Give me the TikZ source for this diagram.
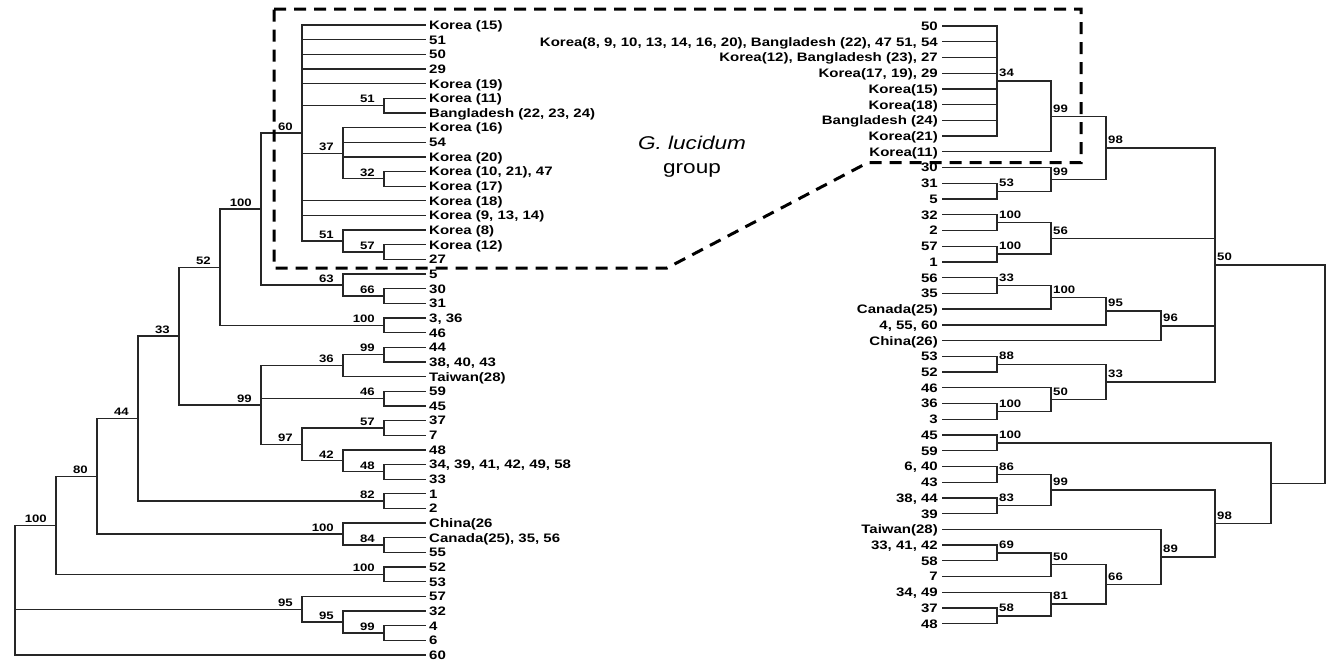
\documentclass[tikz,border=0pt]{standalone}
\usepackage{fontspec}
\setmainfont{Liberation Sans}[FakeStretch=1.22]
\usetikzlibrary{positioning}

\begin{document}
\begin{tikzpicture}[
  x=1pt,y=-1pt,
  br/.style={draw=black!85,line width=1.3pt},
  leafL/.style={font=\fontsize{12.3}{14}\selectfont\bfseries,inner sep=0pt,text height=8.8pt,text depth=0pt},
  leafR/.style={leafL},
  supL/.style={font=\fontsize{10.8}{12}\selectfont\bfseries,inner sep=0pt,anchor=south east,xshift=-9pt,yshift=2.5pt},
  supR/.style={font=\fontsize{10.8}{12}\selectfont\bfseries,inner sep=0pt,anchor=south west,xshift=2pt,yshift=4pt},
  grpbox/.style={line width=3pt,dash pattern=on 12pt off 8pt},
  grp/.style={font=\fontsize{18.5}{20}\selectfont,inner sep=0pt}
]
\useasboundingbox (0,0) rectangle (1330,662);

% left tree
\foreach \lbl [count=\i from 0] in {Korea (15),51,50,29,Korea (19),Korea (11),{Bangladesh (22, 23, 24)},Korea (16),54,Korea (20),{Korea (10, 21), 47},Korea (17),Korea (18),{Korea (9, 13, 14)},Korea (8),Korea (12),27,5,30,31,{3, 36},46,44,{38, 40, 43},Taiwan(28),59,45,37,7,48,{34, 39, 41, 42, 49, 58},33,1,2,China(26,{Canada(25), 35, 56},55,52,53,57,32,4,6,60}
  {\coordinate (a\i) at (426,{25+14.65*\i});
   \node[leafL,right=3pt of a\i] (la\i) {\lbl};}

\foreach \n/\x/\y in {lA/384/105.58, lC/384/178.83, lB/343/153.19, lE/384/252.08, lD/343/241.09,
  lP/302/133.05, lG/384/296.03, lF/343/285.04, l60/261/209.05, lH/384/325.33, l100/220/267.19,
  lL/384/354.63, lI/343/365.61, lJ/384/398.58, lM/384/427.88, lO/384/471.83, lN/343/460.84,
  lK/302/444.36, l99/261/404.98, l52/179/336.09, lQ/384/501.13, l33/138/418.61, lS/384/545.08,
  lR/343/534.09, l44/97/476.35, lT/384/574.38, l80/56/525.36, lW/384/632.98, lV/343/621.99,
  lU/302/609.17, lroot/15/590.16}
  \coordinate (\n) at (\x,\y);

\foreach \p/\c in {lroot/l80, lroot/lU, lroot/a43, l80/l44, l80/lT, l44/l33, l44/lR,
  l33/l52, l33/lQ, l52/l100, l52/l99, l100/l60, l100/lH, l60/lP, l60/lF,
  lP/a0, lP/a1, lP/a2, lP/a3, lP/a4, lP/lA, lP/lB, lP/a12, lP/a13, lP/lD,
  lA/a5, lA/a6, lB/a7, lB/a8, lB/a9, lB/lC, lC/a10, lC/a11, lD/a14, lD/lE, lE/a15, lE/a16,
  lF/a17, lF/lG, lG/a18, lG/a19, lH/a20, lH/a21, l99/lI, l99/lJ, l99/lK,
  lI/lL, lI/a24, lL/a22, lL/a23, lJ/a25, lJ/a26, lK/lM, lK/lN, lM/a27, lM/a28,
  lN/a29, lN/lO, lO/a30, lO/a31, lQ/a32, lQ/a33, lR/a34, lR/lS, lS/a35, lS/a36,
  lT/a37, lT/a38, lU/a39, lU/lV, lV/a40, lV/lW, lW/a41, lW/a42}
  \draw[br] (\p) |- (\c);

\foreach \n/\v in {l80/100, l44/80, l33/44, l52/33, l100/52, l60/100, lP/60, lA/51, lB/37,
  lC/32, lD/51, lE/57, lF/63, lG/66, lH/100, lI/36, lL/99, l99/99, lJ/46, lK/97, lM/57,
  lN/42, lO/48, lQ/82, lR/100, lS/84, lT/100, lU/95, lV/95, lW/99}
  \node[supL] (s\n) at (\n) {\v};

% right tree
\foreach \lbl [count=\i from 0] in {50,{Korea(8, 9, 10, 13, 14, 16, 20), Bangladesh (22), 47 51, 54},{Korea(12), Bangladesh (23), 27},{Korea(17, 19), 29},Korea(15),Korea(18),Bangladesh (24),Korea(21),Korea(11),30,31,5,32,2,57,1,56,35,Canada(25),{4, 55, 60},China(26),53,52,46,36,3,45,59,{6, 40},43,{38, 44},39,Taiwan(28),{33, 41, 42},58,7,{34, 49},37,48}
  {\coordinate (b\i) at (942,{26+15.73*\i});
   \node[leafR,left=4pt of b\i] (lb\i) {\lbl};}

\foreach \n/\x/\y in {r34/997/81.06, r99a/1051/116.45, r53/997/191.17, r99b/1051/179.37,
  r98a/1106/147.91, r100a/997/222.63, r100b/997/254.09, r56/1051/238.36, r33a/997/285.55,
  r100c/1051/297.35, r95/1106/311.11, r96/1161/325.86, r88/997/364.2, r100d/997/411.39,
  r50a/1051/399.59, r33b/1106/381.9, r50/1215/264.91, r100e/997/442.85, r86/997/474.31,
  r83/997/505.77, r99c/1051/490.04, r69/997/552.96, r50b/1051/564.76, r58/997/615.88,
  r81/1051/604.08, r66/1106/584.42, r89/1161/556.89, r98b/1215/523.47, rj/1271/483.16,
  rroot/1325/374.04}
  \coordinate (\n) at (\x,\y);

\foreach \p/\c in {rroot/r50, rroot/rj, r50/r98a, r50/r56, r50/r96, r50/r33b,
  r98a/r99a, r98a/r99b, r99a/r34, r99a/b8, r34/b0, r34/b1, r34/b2, r34/b3, r34/b4, r34/b5,
  r34/b6, r34/b7, r99b/b9, r99b/r53, r53/b10, r53/b11, r56/r100a, r56/r100b,
  r100a/b12, r100a/b13, r100b/b14, r100b/b15, r96/r95, r96/b20, r95/r100c, r95/b19,
  r100c/r33a, r100c/b18, r33a/b16, r33a/b17, r33b/r88, r33b/r50a, r88/b21, r88/b22,
  r50a/b23, r50a/r100d, r100d/b24, r100d/b25, rj/r100e, rj/r98b, r100e/b26, r100e/b27,
  r98b/r99c, r98b/r89, r99c/r86, r99c/r83, r86/b28, r86/b29, r83/b30, r83/b31,
  r89/b32, r89/r66, r66/r50b, r66/r81, r50b/r69, r50b/b35, r69/b33, r69/b34,
  r81/b36, r81/r58, r58/b37, r58/b38}
  \draw[br] (\p) |- (\c);

\foreach \n/\v in {r34/34, r99a/99, r53/53, r99b/99, r98a/98, r100a/100, r100b/100, r56/56,
  r33a/33, r100c/100, r95/95, r96/96, r88/88, r100d/100, r50a/50, r33b/33, r50/50,
  r100e/100, r86/86, r83/83, r99c/99, r69/69, r50b/50, r58/58, r81/81, r66/66, r89/89, r98b/98}
  \node[supR] (s\n) at (\n) {\v};

% group outline
\coordinate (g1) at (274,9);
\coordinate (g2) at (1081,9);
\coordinate (g3) at (1081,162.5);
\coordinate (g4) at (868,162.5);
\coordinate (g5) at (667,268);
\coordinate (g6) at (274,268);
\draw[grpbox] (g1) -- (g2) -- (g3) -- (g4) -- (g5) -- (g6) -- cycle;

\node[grp,font=\fontsize{18.5}{20}\selectfont\itshape] (gname) at (692,143) {G. lucidum};
\node[grp,below=13.5pt of gname] (gword) {group};
\end{tikzpicture}
\end{document}
